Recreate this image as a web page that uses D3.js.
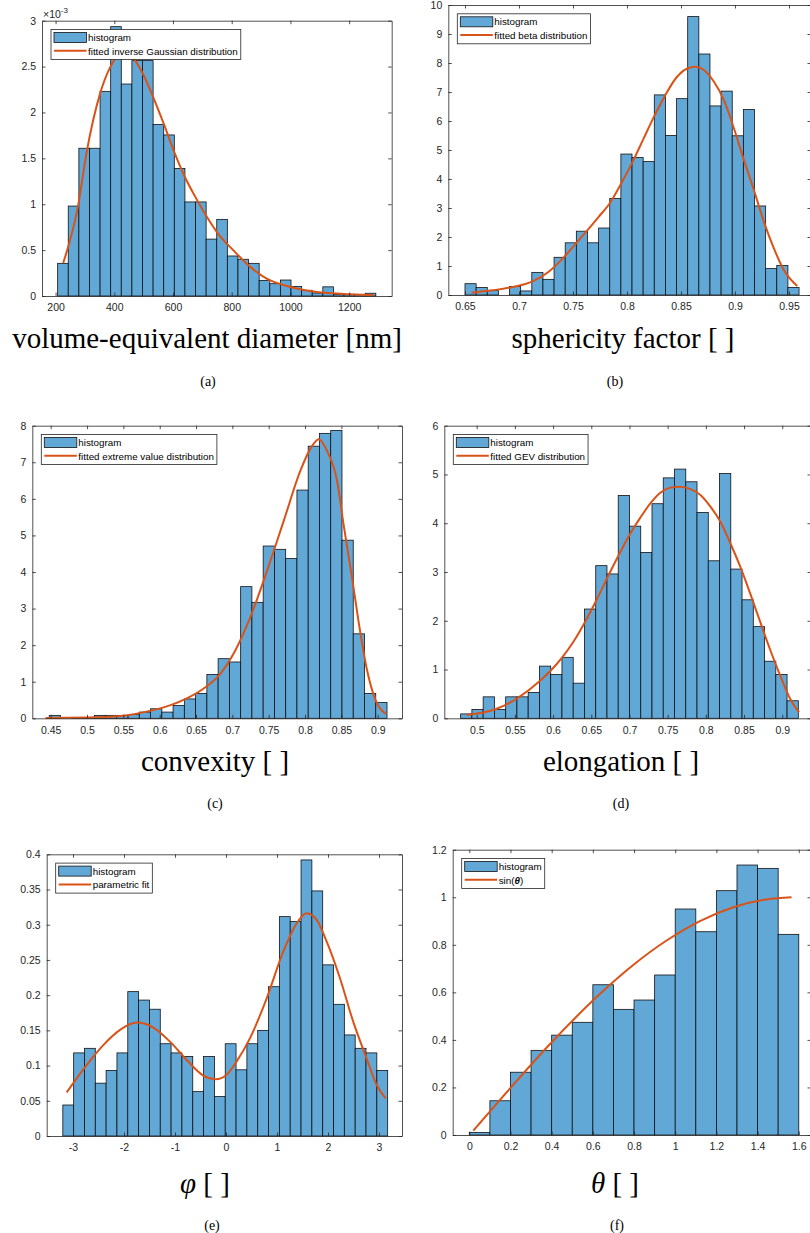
<!DOCTYPE html>
<html>
<head>
<meta charset="utf-8">
<script src="https://cdn.jsdelivr.net/npm/d3@7"></script>
<style>
  body { margin: 0; background: #fff; }
  svg text { font-family: "Liberation Sans", Arial, sans-serif; }
  .axis path, .axis line { stroke: #262626; stroke-width: 0.8; }
  .axis text { fill: #262626; font-size: 10.5px; }
  .xlabel, .caption { font-family: "Liberation Serif", "Times New Roman", serif !important; fill: #000; }
</style>
</head>
<body>
<div id="fig"></div>
<script>
// ---------- data ----------
// (a) volume-equivalent diameter, density x 1e-3
const diamBinRange = [207, 1291];
const diamDensity = [0.356, 0.98, 1.61, 1.61, 2.23, 2.935, 2.31, 2.565, 2.565, 1.87,
  1.755, 1.39, 1.025, 1.025, 0.62, 0.835, 0.436, 0.40, 0.356, 0.17,
  0.134, 0.174, 0.105, 0.062, 0.033, 0.10, 0.018, 0.018, 0.018, 0.03];
const diamFit = [[226, 0.36], [277, 0.99], [306, 1.57], [351, 2.2], [387, 2.5], [431, 2.66],
  [460, 2.61], [496, 2.43], [532, 2.17], [568, 1.88], [604, 1.57], [640, 1.30], [676, 1.08],
  [712, 0.88], [758, 0.66], [805, 0.50], [862, 0.32], [919, 0.19], [976, 0.12], [1033, 0.073],
  [1090, 0.044], [1147, 0.03], [1203, 0.018], [1283, 0.01]];
const diamXTicks = [200, 400, 600, 800, 1000, 1200];
const diamYTicks = [0, 0.5, 1, 1.5, 2, 2.5, 3];

// (b) sphericity factor
const spherBinRange = [0.65, 0.9593];
const spherDensity = [0.39, 0.26, 0.15, 0, 0.29, 0.14, 0.78, 0.54, 1.3, 1.8,
  2.2, 1.8, 2.31, 3.33, 4.86, 4.74, 4.60, 6.9, 5.5, 6.77,
  9.6, 8.31, 6.52, 7.03, 5.49, 6.4, 3.07, 0.91, 1.02, 0.26];
const spherFit = [[0.656, 0.08], [0.675, 0.16], [0.692, 0.26], [0.712, 0.46], [0.7275, 0.80],
  [0.7395, 1.22], [0.7528, 1.78], [0.763, 2.22], [0.7734, 2.68], [0.7847, 3.2], [0.794, 3.8],
  [0.8045, 4.54], [0.8147, 5.34], [0.825, 6.15], [0.8356, 6.9], [0.8458, 7.5], [0.8563, 7.82],
  [0.8634, 7.87], [0.8711, 7.76], [0.8804, 7.36], [0.8897, 6.72], [0.899, 5.75], [0.9082, 4.66],
  [0.9175, 3.62], [0.9267, 2.53], [0.936, 1.61], [0.9452, 0.86], [0.9576, 0.31]];
const spherXTicks = [0.65, 0.7, 0.75, 0.8, 0.85, 0.9, 0.95];
const spherYTicks = [0, 1, 2, 3, 4, 5, 6, 7, 8, 9, 10];

// (c) convexity
const convBinRange = [0.448, 0.9128];
const convDensity = [0.08, 0, 0.02, 0.02, 0.08, 0.08, 0.08, 0.1, 0.17, 0.26,
  0.17, 0.35, 0.53, 0.68, 1.2, 1.63, 1.54, 3.6, 3.17, 4.71,
  4.62, 4.37, 6.24, 7.44, 7.79, 7.87, 4.87, 2.31, 0.68, 0.43];
const convFit = [[0.443, 0.01], [0.5, 0.02], [0.546, 0.06], [0.592, 0.23], [0.615, 0.36],
  [0.638, 0.55], [0.661, 0.82], [0.684, 1.23], [0.702, 1.78], [0.725, 2.78], [0.748, 4.05],
  [0.771, 5.42], [0.794, 6.79], [0.807, 7.36], [0.819, 7.63], [0.8305, 7.3], [0.844, 6.5],
  [0.853, 5.3], [0.865, 3.8], [0.876, 2.35], [0.885, 1.35], [0.897, 0.5], [0.911, 0.12]];
const convXTicks = [0.45, 0.5, 0.55, 0.6, 0.65, 0.7, 0.75, 0.8, 0.85, 0.9];
const convYTicks = [0, 1, 2, 3, 4, 5, 6, 7, 8];

// (d) elongation
const elongBinRange = [0.479, 0.921];
const elongDensity = [0.09, 0.18, 0.44, 0.18, 0.44, 0.44, 0.53, 1.07, 0.9, 1.25,
  0.72, 2.24, 3.13, 2.96, 4.57, 3.94, 3.40, 4.40, 4.93, 5.11,
  4.85, 4.22, 3.23, 5.02, 3.06, 2.43, 1.88, 1.17, 0.9, 0.36];
const elongFit = [[0.487, 0.07], [0.5236, 0.18], [0.553, 0.41], [0.583, 0.77], [0.597, 0.98],
  [0.612, 1.25], [0.627, 1.58], [0.642, 1.98], [0.657, 2.43], [0.674, 2.98], [0.687, 3.38],
  [0.7, 3.76], [0.714, 4.11], [0.727, 4.40], [0.74, 4.62], [0.7536, 4.73], [0.7667, 4.75],
  [0.7798, 4.70], [0.7929, 4.58], [0.806, 4.34], [0.819, 4.03], [0.832, 3.59], [0.845, 3.11],
  [0.858, 2.56], [0.8717, 1.95], [0.885, 1.37], [0.898, 0.85], [0.911, 0.38], [0.922, 0.12]];
const elongXTicks = [0.5, 0.55, 0.6, 0.65, 0.7, 0.75, 0.8, 0.85, 0.9];
const elongYTicks = [0, 1, 2, 3, 4, 5, 6];

// (e) phi
const phiBinRange = [-3.2, 3.17];
const phiDensity = [0.044, 0.118, 0.1245, 0.075, 0.093, 0.118, 0.205, 0.193, 0.18, 0.131,
  0.118, 0.113, 0.063, 0.113, 0.056, 0.131, 0.094, 0.131, 0.15, 0.212,
  0.3115, 0.3045, 0.392, 0.348, 0.243, 0.187, 0.1435, 0.1245, 0.118, 0.093];
const phiFit = [[-3.124, 0.062], [-2.73, 0.101], [-2.406, 0.129], [-2.078, 0.1506], [-1.751, 0.161],
  [-1.425, 0.154], [-1.098, 0.134], [-0.771, 0.108], [-0.445, 0.0857], [-0.2, 0.0805],
  [0.013, 0.087], [0.209, 0.106], [0.471, 0.139], [0.798, 0.1955], [1.124, 0.262],
  [1.386, 0.302], [1.582, 0.3163], [1.778, 0.307], [1.975, 0.276], [2.235, 0.224],
  [2.496, 0.162], [2.758, 0.110], [2.954, 0.0724], [3.13, 0.0535]];
const phiXTicks = [-3, -2, -1, 0, 1, 2, 3];
const phiYTicks = [0, 0.05, 0.1, 0.15, 0.2, 0.25, 0.3, 0.35, 0.4];

// (f) theta
const thetaBinRange = [0, 1.6];
const thetaDensity = [0.011, 0.144, 0.264, 0.356, 0.42, 0.474, 0.632, 0.5285,
  0.5677, 0.673, 0.9505, 0.855, 1.0276, 1.1355, 1.1215, 0.844];
const thetaFit = [[0.0194, 0.018], [0.198, 0.196], [0.4, 0.39], [0.634, 0.593],
  [0.796, 0.715], [0.958, 0.818], [1.12, 0.90], [1.282, 0.958], [1.444, 0.991], [1.565, 1.0]];
const thetaXTicks = [0, 0.2, 0.4, 0.6, 0.8, 1, 1.2, 1.4, 1.6];
const thetaYTicks = [0, 0.2, 0.4, 0.6, 0.8, 1, 1.2];

// ---------- layout ----------
const barFill = '#62a8d7';
const fitColor = '#d95319';

const panels = [
  { id: 'a', box: {left: 42, top: 20.7, right: 391.7, bottom: 296},
    xDomain: [153.7, 1345], yDomain: [0, 3],
    binRange: diamBinRange, density: diamDensity, fit: diamFit,
    xTicks: diamXTicks, yTicks: diamYTicks, fitLabel: 'fitted inverse Gaussian distribution',
    xlabel: [{t: 'volume-equivalent diameter [nm]'}], labelX: 207, labelY: 348,
    caption: '(a)', capX: 208, capY: 386, exponent: true },
  { id: 'b', box: {left: 448.3, top: 5, right: 811, bottom: 295},
    xDomain: [0.63454, 0.97037], yDomain: [0, 10],
    binRange: spherBinRange, density: spherDensity, fit: spherFit,
    xTicks: spherXTicks, yTicks: spherYTicks, fitLabel: 'fitted beta distribution',
    xlabel: [{t: 'sphericity factor [ ]'}], labelX: 623, labelY: 348,
    caption: '(b)', capX: 615, capY: 386 },
  { id: 'c', box: {left: 32.3, top: 425.7, right: 402, bottom: 718.3},
    xDomain: [0.42468, 0.93342], yDomain: [0, 8],
    binRange: convBinRange, density: convDensity, fit: convFit,
    xTicks: convXTicks, yTicks: convYTicks, fitLabel: 'fitted extreme value distribution',
    xlabel: [{t: 'convexity [ ]'}], labelX: 215, labelY: 771,
    caption: '(c)', capX: 215, capY: 808 },
  { id: 'd', box: {left: 444.3, top: 425.7, right: 811, bottom: 718.3},
    xDomain: [0.4576, 0.9376], yDomain: [0, 6],
    binRange: elongBinRange, density: elongDensity, fit: elongFit,
    xTicks: elongXTicks, yTicks: elongYTicks, fitLabel: 'fitted GEV distribution',
    xlabel: [{t: 'elongation [ ]'}], labelX: 621, labelY: 771,
    caption: '(d)', capX: 621, capY: 808 },
  { id: 'e', box: {left: 46.7, top: 854.3, right: 402, bottom: 1136},
    xDomain: [-3.516, 3.451], yDomain: [0, 0.4],
    binRange: phiBinRange, density: phiDensity, fit: phiFit,
    xTicks: phiXTicks, yTicks: phiYTicks, fitLabel: 'parametric fit',
    xlabel: [{t: 'φ', italic: true}, {t: ' [ ]'}], labelX: 205, labelY: 1193,
    caption: '(e)', capX: 212, capY: 1230 },
  { id: 'f', box: {left: 452.7, top: 849.7, right: 811, bottom: 1135},
    xDomain: [-0.0806, 1.6594], yDomain: [0, 1.2],
    binRange: thetaBinRange, density: thetaDensity, fit: thetaFit,
    xTicks: thetaXTicks, yTicks: thetaYTicks, fitLabel: 'sin(θ)',
    xlabel: [{t: 'θ', italic: true}, {t: ' [ ]'}], labelX: 615, labelY: 1193,
    caption: '(f)', capX: 617, capY: 1230 }
];

const svg = d3.select('#fig').append('svg')
    .attr('width', 810)
    .attr('height', 1233);

panels.forEach(drawPanel);

function drawPanel(p) {
  const b = p.box;
  const g = svg.append('g').attr('class', 'panel-' + p.id);

  const x = d3.scaleLinear().domain(p.xDomain).range([b.left, b.right]);
  const y = d3.scaleLinear().domain(p.yDomain).range([b.bottom, b.top]);

  // histogram bars
  const n = p.density.length;
  const bw = (p.binRange[1] - p.binRange[0]) / n;
  g.append('g').selectAll('rect')
    .data(p.density)
    .join('rect')
      .attr('x', (d, i) => x(p.binRange[0] + i * bw))
      .attr('width', (d, i) => x(p.binRange[0] + (i + 1) * bw) - x(p.binRange[0] + i * bw))
      .attr('y', d => y(d))
      .attr('height', d => y(0) - y(d))
      .attr('fill', barFill)
      .attr('stroke', '#111')
      .attr('stroke-width', 0.8);

  // fitted curve
  const line = d3.line()
      .x(d => x(d[0]))
      .y(d => y(d[1]))
      .curve(d3.curveMonotoneX);
  g.append('path')
      .datum(p.fit)
      .attr('d', line)
      .attr('fill', 'none')
      .attr('stroke', fitColor)
      .attr('stroke-width', 2);

  // axes, ticks inside on all four sides
  const fmt = d => String(d);
  g.append('g').attr('class', 'axis')
      .attr('transform', `translate(0,${b.bottom})`)
      .call(d3.axisBottom(x).tickValues(p.xTicks).tickSizeInner(-3.5).tickSizeOuter(0).tickPadding(8).tickFormat(fmt));
  g.append('g').attr('class', 'axis')
      .attr('transform', `translate(0,${b.top})`)
      .call(d3.axisTop(x).tickValues(p.xTicks).tickSizeInner(-3.5).tickSizeOuter(0).tickFormat(''));
  g.append('g').attr('class', 'axis')
      .attr('transform', `translate(${b.left},0)`)
      .call(d3.axisLeft(y).tickValues(p.yTicks).tickSizeInner(-3.5).tickSizeOuter(0).tickPadding(6).tickFormat(fmt));
  g.append('g').attr('class', 'axis')
      .attr('transform', `translate(${b.right},0)`)
      .call(d3.axisRight(y).tickValues(p.yTicks).tickSizeInner(-3.5).tickSizeOuter(0).tickFormat(''));

  if (p.exponent) {
    const ex = g.append('text')
        .attr('x', b.left + 1)
        .attr('y', b.top - 3)
        .attr('fill', '#262626')
        .attr('font-size', '10.5px');
    ex.append('tspan').text('×10');
    ex.append('tspan').attr('dy', -5).attr('font-size', '8px').text('-3');
  }

  // legend
  const lg = g.append('g').attr('transform', `translate(${b.left + 9},${b.top + 8.8})`);
  const box = lg.append('rect')
      .attr('height', 30)
      .attr('fill', '#fff')
      .attr('stroke', '#262626')
      .attr('stroke-width', 0.8);
  lg.append('rect')
      .attr('x', 3).attr('y', 3)
      .attr('width', 32.5).attr('height', 10)
      .attr('fill', barFill)
      .attr('stroke', '#111')
      .attr('stroke-width', 0.8);
  lg.append('line')
      .attr('x1', 3).attr('x2', 35.5)
      .attr('y1', 21.3).attr('y2', 21.3)
      .attr('stroke', fitColor)
      .attr('stroke-width', 2);
  const t1 = lg.append('text')
      .attr('x', 37).attr('y', 11.5)
      .attr('font-size', '9.8px')
      .text('histogram');
  const t2 = lg.append('text')
      .attr('x', 37).attr('y', 25)
      .attr('font-size', '9.8px');
  if (p.id === 'f') {
    t2.append('tspan').text('sin(');
    t2.append('tspan').attr('font-style', 'italic').attr('font-weight', 'bold').text('θ');
    t2.append('tspan').text(')');
  } else {
    t2.text(p.fitLabel);
  }
  const tw = Math.max(t1.node().getComputedTextLength(), t2.node().getComputedTextLength());
  box.attr('width', 37 + tw + 3);

  // x label (LaTeX style serif)
  const xl = g.append('text')
      .attr('class', 'xlabel')
      .attr('x', p.labelX)
      .attr('y', p.labelY)
      .attr('text-anchor', 'middle')
      .attr('font-size', '29px');
  p.xlabel.forEach(part => {
    xl.append('tspan')
      .attr('font-style', part.italic ? 'italic' : 'normal')
      .text(part.t);
  });

  // sub-figure caption
  g.append('text')
      .attr('class', 'caption')
      .attr('x', p.capX)
      .attr('y', p.capY)
      .attr('text-anchor', 'middle')
      .attr('font-size', '14px')
      .text(p.caption);
}
</script>
</body>
</html>
